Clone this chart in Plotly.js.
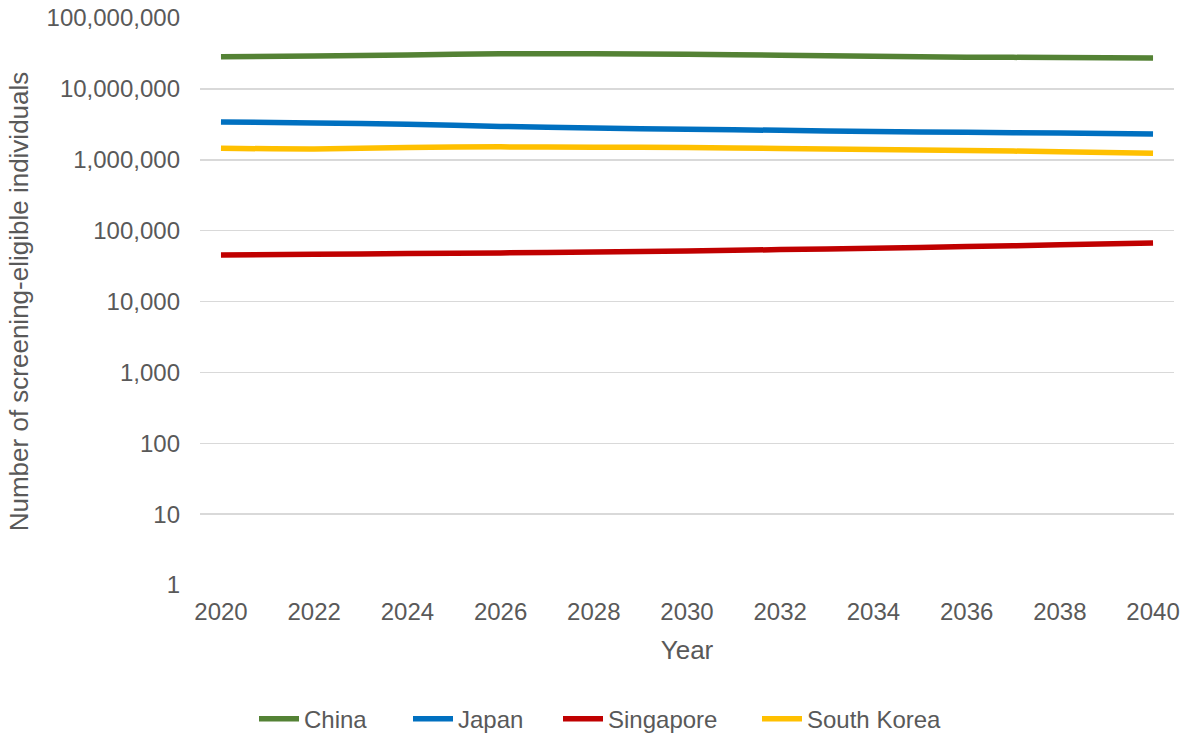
<!DOCTYPE html>
<html>
<head>
<meta charset="utf-8">
<script src="https://cdn.plot.ly/plotly-3.0.1.min.js"></script>
<style>
  html, body { margin: 0; padding: 0; background: #ffffff; }
  #chart { width: 1196px; height: 736px; }
</style>
</head>
<body>
<div id="chart"></div>
<script>
// Projected screening-eligible population, every second year
const years = [2020, 2022, 2024, 2026, 2028, 2030, 2032, 2034, 2036, 2038, 2040];

const china     = [28400000, 29000000, 30100000, 31200000, 31300000, 30800000, 29800000, 28800000, 28000000, 27700000, 27300000];
const japan     = [3410000, 3300000, 3170000, 2950000, 2800000, 2700000, 2600000, 2500000, 2440000, 2380000, 2310000];
const singapore = [45300, 46300, 47500, 48500, 50000, 51500, 54000, 56500, 59500, 63000, 67000];
const southKorea = [1450000, 1420000, 1490000, 1520000, 1500000, 1490000, 1440000, 1400000, 1350000, 1300000, 1240000];

const yTickVals = [1, 10, 100, 1000, 10000, 100000, 1000000, 10000000, 100000000];
const yTickText = ['1', '10', '100', '1,000', '10,000', '100,000', '1,000,000', '10,000,000', '100,000,000'];

const seriesNames = ['China', 'Japan', 'Singapore', 'South Korea'];
const seriesData = [china, japan, singapore, southKorea];
const seriesColors = ['#548235', '#0070C0', '#C00000', '#FFC000'];

// Each series gets its own legend box so the entries can be spaced out along the bottom
const legendIds = ['legend', 'legend2', 'legend3', 'legend4'];
const legendLeft = [254, 408, 558, 757];

const textColor = '#595959';
const fontFamily = '"Liberation Sans", Arial, sans-serif';

const traces = seriesNames.map((name, i) => ({
  type: 'scatter',
  mode: 'lines',
  name: name,
  x: years,
  y: seriesData[i],
  legend: legendIds[i],
  line: { color: seriesColors[i], width: 5.5, shape: 'spline', smoothing: 0.6 },
  hoverinfo: 'x+y+name'
}));

const layout = {
  width: 1196,
  height: 736,
  margin: { l: 200, r: 22, t: 18, b: 151 },
  paper_bgcolor: '#ffffff',
  plot_bgcolor: '#ffffff',
  font: { family: fontFamily, color: textColor, size: 24 },
  showlegend: true,
  xaxis: {
    range: [2019.55, 2040.45],
    tickmode: 'array',
    tickvals: years,
    ticktext: years.map(String),
    showgrid: false,
    zeroline: false,
    showline: false,
    ticks: '',
    ticklabelstandoff: 10,
    tickfont: { size: 24, color: textColor },
    title: { text: 'Year', font: { size: 26, color: textColor }, standoff: 16 }
  },
  yaxis: {
    type: 'log',
    range: [0, 8],
    tickmode: 'array',
    tickvals: yTickVals,
    ticktext: yTickText,
    showgrid: true,
    gridcolor: '#d9d9d9',
    gridwidth: 1.5,
    zeroline: false,
    showline: false,
    ticks: '',
    ticklabelstandoff: 19,
    tickfont: { size: 24, color: textColor },
    title: { text: 'Number of screening-eligible individuals', font: { size: 26, color: textColor }, standoff: 10 }
  }
};

legendIds.forEach((id, i) => {
  layout[id] = {
    orientation: 'h',
    xref: 'container',
    yref: 'container',
    x: legendLeft[i] / 1196,
    xanchor: 'left',
    y: 0.023,
    yanchor: 'middle',
    bgcolor: 'rgba(0,0,0,0)',
    font: { size: 24, color: textColor, family: fontFamily },
    itemwidth: 40
  };
});

Plotly.newPlot('chart', traces, layout, { displayModeBar: false, staticPlot: true });
</script>
</body>
</html>
